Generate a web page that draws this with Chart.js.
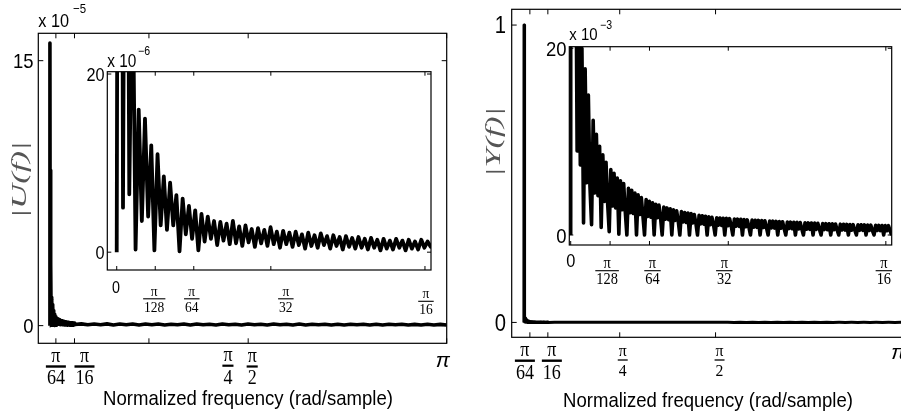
<!DOCTYPE html>
<html>
<head>
<meta charset="utf-8">
<script src="https://cdn.jsdelivr.net/npm/chart.js@4.4.0/dist/chart.umd.min.js"></script>
<style>
  html, body { margin: 0; padding: 0; background: #fff; overflow: hidden; width: 901px; height: 418px; }
  canvas { position: absolute; left: 0; top: 0; }
</style>
</head>
<body>
<canvas id="uMain" width="920" height="418"></canvas>
<canvas id="uInset" width="920" height="418"></canvas>
<canvas id="yMain" width="920" height="418"></canvas>
<canvas id="yInset" width="920" height="418"></canvas>
<script>
const PI = Math.PI;

// |U(f)| in units of 1e-6, one value every 0.002 rad from 0 to 0.2 rad
const uBinStep = 0.002;
const uDetail = [
  0, 160, 5, 88, 6.5, 35, 0.3, 16, 3.5, 15,
  4, 12, 0.2, 11, 3, 8.5, 2.5, 7.8, 3, 6.4,
  0.1, 6, 2, 5.2, 1.5, 4.7, 0.2, 4.3, 1.2, 4,
  1.5, 3.5, 0.8, 3.4, 1.3, 3.2, 0.9, 3.5, 1.0, 2.9,
  0.7, 3.0, 1.1, 2.6, 0.6, 2.7, 1.0, 2.5, 0.7, 2.8,
  0.9, 2.3, 0.5, 2.4, 0.9, 2.2, 0.6, 2.3, 0.8, 2.0,
  0.4, 2.2, 0.7, 1.9, 0.5, 2.1, 0.8, 1.8, 0.4, 1.9,
  0.7, 1.7, 0.3, 1.8, 0.6, 1.6, 0.4, 1.7, 0.5, 1.5,
  0.3, 1.6, 0.5, 1.4, 0.2, 1.5, 0.4, 1.3, 0.3, 1.5,
  0.5, 1.3, 0.2, 1.4, 0.4, 1.2, 0.3, 1.4, 0.5, 1.2,
  0.6
];
// |U(f)| beyond 0.2 rad up to pi (coarse, units of 1e-6)
const uTail = [
  1.0, 0.5, 0.9, 0.5, 1.0, 0.4, 0.9, 0.5, 0.9, 0.4,
  0.9, 0.5, 0.9, 0.4, 0.8, 0.5, 0.9, 0.4, 0.9, 0.5,
  0.8, 0.4, 0.9, 0.5, 0.8, 0.4, 0.9, 0.5, 0.8, 0.4,
  0.9, 0.5, 0.8, 0.4, 0.9, 0.4, 0.8, 0.5, 0.8, 0.4,
  0.8, 0.4, 0.8, 0.5, 0.8, 0.4, 0.8, 0.4, 0.8, 0.5,
  0.8, 0.4, 0.7, 0.4, 0.8, 0.4, 0.7, 0.4
];

// |Y(f)| in units of 1e-3, one value every 0.001 rad from 0 to 0.2 rad
const yBinStep = 0.001;
const yDetail = [
  0, 1000, 62, 38, 9, 26, 7.5, 20, 1.3, 17.8,
  5.6, 15, 5.2, 1.1, 12.3, 4.5, 10.8, 4.2, 9.5, 0.8,
  8.6, 3.6, 7.8, 3.4, 0.35, 7.0, 3.1, 6.6, 2.9, 6.1,
  0.1, 5.8, 2.7, 5.5, 2.5, 0, 5.0, 2.4, 4.8, 2.3,
  4.5, 0, 4.3, 2.2, 4.0, 2.05, 0, 3.8, 2.0, 3.6,
  1.9, 3.45, 0, 3.3, 1.85, 3.2, 1.8, 0, 3.0, 1.7,
  2.9, 1.65, 2.8, 0, 2.7, 1.55, 2.6, 1.5, 0, 2.5,
  1.4, 2.4, 1.35, 2.35, 0, 2.3, 1.3, 2.2, 1.25, 0,
  2.1, 1.2, 2.05, 1.15, 2.0, 0, 1.95, 1.1, 1.9, 1.08,
  0, 1.85, 1.05, 1.82, 1.02, 1.8, 0, 1.78, 1.0, 1.75,
  0.97, 0, 1.72, 0.95, 1.7, 0.92, 1.68, 0, 1.65, 0.88,
  1.62, 0.86, 0, 1.6, 0.84, 1.58, 0.82, 1.56, 0, 1.54,
  0.8, 1.52, 0.78, 0, 1.5, 0.76, 1.48, 0.74, 1.46, 0,
  1.44, 0.72, 1.42, 0.7, 0, 1.4, 0.69, 1.38, 0.67, 1.36,
  0, 1.35, 0.65, 1.33, 0.64, 0, 1.31, 0.62, 1.3, 0.61,
  1.28, 0, 1.27, 0.6, 1.25, 0.59, 0, 1.23, 0.58, 1.22,
  0.57, 1.21, 0, 1.2, 0.56, 1.18, 0.55, 0, 1.16, 0.54,
  1.15, 0.53, 1.14, 0, 1.12, 0.52, 1.11, 0.51, 0, 1.1,
  0.5, 1.09, 0.5, 1.08, 0, 1.06, 0.49, 1.05, 0.48, 0,
  1.04, 0.48, 1.03, 0.47, 1.02, 0, 1.01, 0.46, 1.0, 0.45,
  0
];
// |Y(f)| beyond 0.2 rad up to pi (coarse, units of 1e-3)
const yTail = [
  0.95, 0.4, 0.9, 0.35, 0.85, 0.35, 0.8, 0.3, 0.8, 0.3,
  0.75, 0.3, 0.7, 0.25, 0.7, 0.25, 0.65, 0.25, 0.6, 0.2,
  0.6, 0.2, 0.55, 0.2, 0.55, 0.2, 0.5, 0.2, 0.5, 0.15,
  0.45, 0.15, 0.45, 0.15, 0.4, 0.15, 0.4, 0.1, 0.4, 0.1,
  0.35, 0.1, 0.35, 0.1, 0.35, 0.1, 0.3, 0.1, 0.3, 0.1,
  0.3, 0.1, 0.3, 0.1, 0.25, 0.1, 0.25, 0.1
];

// ticks (rad) and their labels
const mainTicks = [PI / 64, PI / 16, PI / 4, PI / 2, PI];
const mainTickLabels = [['π', '64'], ['π', '16'], ['π', '4'], ['π', '2'], ['π']];
const insetTicks = [0, PI / 128, PI / 64, PI / 32, PI / 16];
const insetTickLabels = [['0'], ['π', '128'], ['π', '64'], ['π', '32'], ['π', '16']];
const uMainYTicks = [0, 150];
const uMainYLabels = ['0', '15'];
const yMainYTicks = [0, 1000];
const yMainYLabels = ['0', '1'];
const insetYTicks = [0, 20];
const insetYLabels = ['0', '20'];
const xTitleText = 'Normalized frequency (rad/sample)';

const SANS = '"Liberation Sans", Arial, sans-serif';
const SERIF = '"Liberation Serif", "Times New Roman", serif';
const W = 920, H = 418;

// builds the {x,y} points: fine bins up to 0.2 rad, then a coarse tail to pi
function spectrum(step, detail, tail) {
  const pts = detail.map((v, k) => ({x: k * step, y: v}));
  const tailStep = (PI - 0.2) / tail.length;
  tail.forEach((v, i) => pts.push({x: 0.2 + (i + 1) * tailStep, y: v}));
  return pts;
}

// text squeezed horizontally (the figure is a bit stretched vertically)
function put(ctx, s, x, y, font, align, sx) {
  ctx.save();
  ctx.translate(x, y);
  ctx.scale(sx || 0.88, 1);
  ctx.font = font;
  ctx.textAlign = align || 'center';
  ctx.textBaseline = 'alphabetic';
  ctx.fillText(s, 0, 0);
  ctx.restore();
}

function putFit(ctx, s, x, y, font, width, rotate) {
  ctx.save();
  ctx.font = font;
  const w = ctx.measureText(s).width;
  ctx.translate(x, y);
  if (rotate) ctx.rotate(-PI / 2);
  ctx.scale(width / w, 1);
  ctx.textAlign = 'center';
  ctx.textBaseline = rotate ? 'middle' : 'alphabetic';
  ctx.fillText(s, 0, 0);
  ctx.restore();
}

const panels = [
  {
    id: 'uMain',
    box: {left: 38.3, top: 33.3, right: 446.7, bottom: 343.3},
    x: [-0.09, PI], y: [-10, 165.5],
    points: spectrum(uBinStep, uDetail, uTail),
    lineWidth: 3.6, white: false, tickLen: 5,
    xTicks: mainTicks, xLabels: mainTickLabels,
    frac: {dx: [0, 10, 79, 4, -4], barY: [366.5, 366.5, 365.7, 366.5], size: [20, 20, 20, 20], bar: [2.4, 2.4, 2.2, 2.2], gap: 3.5},
    plain: {font: 'italic 21px ' + SANS, base: 366.5, sx: 1},
    yTicks: uMainYTicks, yLabels: uMainYLabels, yLab: {right: 33.5, size: 21},
    exp: {x: 38.3, base: 26.7, size: 18.5, sup: '−5', supX: 73, supBase: 13.3, supSize: 13},
    yTitle: {text: '|U(f)|', x: 20.5, y: 180, w: 77},
    xTitle: {x: 248, base: 405, w: 290}
  },
  {
    id: 'uInset',
    box: {left: 107.3, top: 71.7, right: 431, bottom: 270},
    x: [-0.006, 0.2002], y: [-2, 20.26],
    points: spectrum(uBinStep, uDetail, uTail),
    lineWidth: 3.8, white: true, tickLen: 4,
    xTicks: insetTicks, xLabels: insetTickLabels,
    frac: {dx: [-0.7, -1, -2, 15, 1], barY: [0, 298.8, 298.8, 298.8, 301.3], size: [15, 15, 15, 15, 15], bar: [1.1, 1.1, 1.1, 1.1, 1.1], gap: 2.5},
    plain: {font: '16.3px ' + SANS, base: 293.3},
    yTicks: insetYTicks, yLabels: insetYLabels, yLab: {right: 104.5, size: 18.5},
    exp: {x: 107.3, base: 66.7, size: 17.5, sup: '−6', supX: 138, supBase: 55, supSize: 12}
  },
  {
    id: 'yMain',
    box: {left: 511.7, top: 9.3, right: 907.2, bottom: 337.3},
    x: [-0.1, PI], y: [-50, 1053],
    points: spectrum(yBinStep, yDetail, yTail),
    lineWidth: 3, white: false, tickLen: 5,
    xTicks: mainTicks, xLabels: mainTickLabels,
    frac: {dx: [-5, 4, 3, 4, -9], barY: [360.7, 360.7, 360, 360], size: [20, 20, 17.5, 17.5], bar: [2.4, 2.4, 1.3, 1.3], gap: 3.5},
    plain: {font: 'italic 21px ' + SANS, base: 359, sx: 1},
    yTicks: yMainYTicks, yLabels: yMainYLabels, yLab: {right: 506, size: 23},
    yTitle: {text: '|Y(f)|', x: 494, y: 142, w: 70},
    xTitle: {x: 708, base: 407, w: 290}
  },
  {
    id: 'yInset',
    box: {left: 569.3, top: 46.7, right: 891.7, bottom: 245},
    x: [-0.00087, 0.2], y: [-1.07, 20.17],
    points: spectrum(yBinStep, yDetail, yTail),
    lineWidth: 3.6, white: true, tickLen: 4,
    xTicks: insetTicks, xLabels: insetTickLabels,
    frac: {dx: [0, -3, 3, -4, -2], barY: [0, 270.7, 270.7, 270.7, 270.7], size: [16, 16, 16, 16, 16], bar: [1.1, 1.1, 1.1, 1.1, 1.1], gap: 2.5},
    plain: {font: '18.6px ' + SANS, base: 266.7},
    yTicks: insetYTicks, yLabels: insetYLabels, yLab: {right: 566.5, size: 21},
    exp: {x: 569.3, base: 40, size: 17, sup: '−3', supX: 600, supBase: 29, supSize: 12}
  }
];

function panelPlugin(p) {
  return {
    id: 'panel_' + p.id,
    beforeDraw(chart) {
      if (!p.white) return;
      const a = chart.chartArea, ctx = chart.ctx;
      ctx.save();
      ctx.fillStyle = '#fff';
      ctx.fillRect(a.left, a.top, a.right - a.left, a.bottom - a.top);
      ctx.restore();
    },
    afterDraw(chart) {
      const ctx = chart.ctx, a = chart.chartArea;
      const xs = chart.scales.x, ys = chart.scales.y;
      ctx.save();
      ctx.strokeStyle = '#000';
      ctx.fillStyle = '#000';
      ctx.lineWidth = 1.2;
      ctx.strokeRect(a.left, a.top, a.right - a.left, a.bottom - a.top);

      // inward ticks on all four sides
      ctx.lineWidth = 1;
      ctx.beginPath();
      p.xTicks.forEach(v => {
        const px = xs.getPixelForValue(v);
        ctx.moveTo(px, a.bottom); ctx.lineTo(px, a.bottom - p.tickLen);
        ctx.moveTo(px, a.top); ctx.lineTo(px, a.top + p.tickLen);
      });
      p.yTicks.forEach(v => {
        const py = ys.getPixelForValue(v);
        ctx.moveTo(a.left, py); ctx.lineTo(a.left + p.tickLen, py);
        ctx.moveTo(a.right, py); ctx.lineTo(a.right - p.tickLen, py);
      });
      ctx.stroke();

      // x tick labels (fractions of pi)
      const f = p.frac;
      p.xTicks.forEach((v, i) => {
        const lab = p.xLabels[i];
        const cx = xs.getPixelForValue(v) + f.dx[i];
        if (lab.length === 1) {
          put(ctx, lab[0], cx, p.plain.base, p.plain.font, 'center', p.plain.sx);
          return;
        }
        const size = f.size[i], bar = f.bar[i], barY = f.barY[i];
        const font = size + 'px ' + SERIF;
        ctx.font = font;
        const bw = Math.max(ctx.measureText(lab[0]).width, ctx.measureText(lab[1]).width) * 0.9 + 2;
        put(ctx, lab[0], cx, barY - bar / 2 - f.gap, font, 'center', 0.9);
        put(ctx, lab[1], cx, barY + bar / 2 + f.gap + 0.66 * size, font, 'center', 0.9);
        ctx.fillRect(cx - bw / 2, barY - bar / 2, bw, bar);
      });

      // y tick labels
      p.yTicks.forEach((v, i) => {
        const py = ys.getPixelForValue(v);
        put(ctx, p.yLabels[i], p.yLab.right, py + 0.358 * p.yLab.size, p.yLab.size + 'px ' + SANS, 'right');
      });

      // exponent label
      if (p.exp) {
        put(ctx, 'x 10', p.exp.x, p.exp.base, p.exp.size + 'px ' + SANS, 'left');
        put(ctx, p.exp.sup, p.exp.supX, p.exp.supBase, p.exp.supSize + 'px ' + SANS, 'left');
      }

      // axis titles
      if (p.yTitle) {
        ctx.fillStyle = '#555';
        putFit(ctx, p.yTitle.text, p.yTitle.x, p.yTitle.y, 'italic 21px ' + SERIF, p.yTitle.w, true);
        ctx.fillStyle = '#000';
      }
      if (p.xTitle) {
        putFit(ctx, xTitleText, p.xTitle.x, p.xTitle.base, '21px ' + SANS, p.xTitle.w, false);
      }
      ctx.restore();
    }
  };
}

panels.forEach(p => {
  const ctx = document.getElementById(p.id).getContext('2d');
  new Chart(ctx, {
    type: 'line',
    data: {
      datasets: [{
        data: p.points,
        borderColor: '#000',
        borderWidth: p.lineWidth,
        borderJoinStyle: 'round',
        pointRadius: 0,
        tension: 0,
        fill: false,
        clip: 0
      }]
    },
    options: {
      responsive: false,
      animation: false,
      events: [],
      layout: {
        padding: {left: p.box.left, top: p.box.top, right: W - p.box.right, bottom: H - p.box.bottom}
      },
      plugins: {legend: {display: false}, tooltip: {enabled: false}},
      scales: {
        x: {type: 'linear', display: false, min: p.x[0], max: p.x[1]},
        y: {type: 'linear', display: false, min: p.y[0], max: p.y[1]}
      }
    },
    plugins: [panelPlugin(p)]
  });
});
</script>
</body>
</html>
